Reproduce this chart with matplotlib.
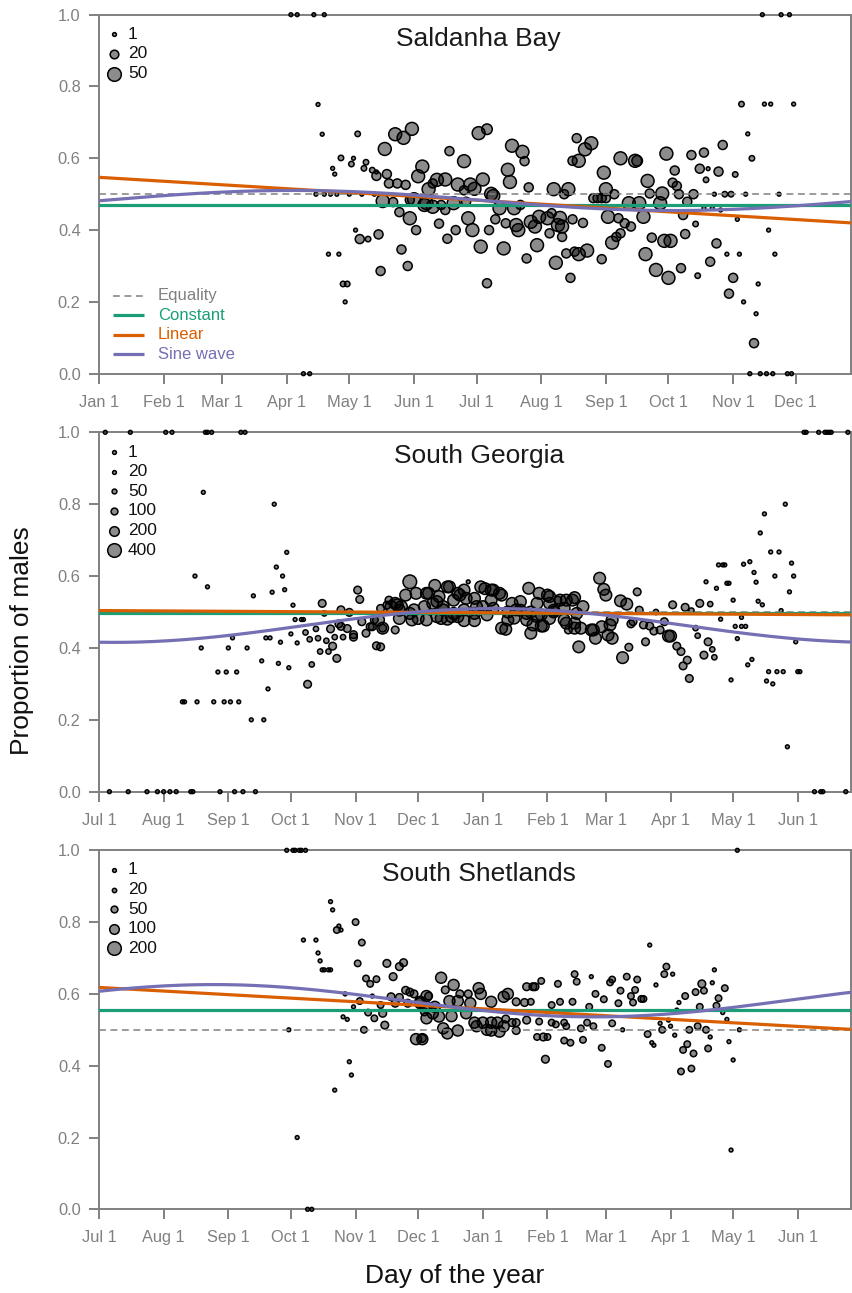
import numpy as np
import matplotlib
matplotlib.use('Agg')
import matplotlib.pyplot as plt

plt.rcParams['font.family'] = ['Liberation Sans', 'DejaVu Sans']

GREEN = '#1b9e77'
ORANGE = '#d95f02'
PURPLE = '#7570b3'
GREY = '#808080'
XMAX = 360.5

# --- month ticks (day offset from the start of each panel) ---
jan_pos = [0, 31, 59, 90, 120, 151, 181, 212, 243, 273, 304, 334]
jan_lab = ['Jan 1', 'Feb 1', 'Mar 1', 'Apr 1', 'May 1', 'Jun 1',
           'Jul 1', 'Aug 1', 'Sep 1', 'Oct 1', 'Nov 1', 'Dec 1']
jul_pos = [0, 31, 62, 92, 123, 153, 184, 215, 243, 274, 304, 335]
jul_lab = ['Jul 1', 'Aug 1', 'Sep 1', 'Oct 1', 'Nov 1', 'Dec 1',
           'Jan 1', 'Feb 1', 'Mar 1', 'Apr 1', 'May 1', 'Jun 1']

# --- Saldanha Bay (days from Jan 1) ---
sb_day = [92, 95, 103, 108, 98, 101, 318, 327, 331, 312,
          317, 320, 323, 330, 332, 105, 107, 112, 113, 116,
          122, 121, 124, 128, 127, 131, 133, 133, 138, 139,
          143, 147, 137, 142, 146, 150, 155, 153, 158, 136,
          141, 151, 156, 144, 149, 152, 123, 125, 129, 134,
          145, 148, 135, 110, 115, 117, 119, 118, 104, 108,
          111, 114, 120, 126, 132, 182, 186, 175, 168, 198,
          203, 204, 196, 197, 184, 172, 178, 180, 175, 188,
          189, 206, 218, 225, 223, 229, 227, 166, 162, 160,
          170, 166, 176, 177, 179, 171, 167, 163, 183, 186,
          187, 192, 190, 194, 195, 200, 201, 199, 202, 207,
          209, 211, 215, 217, 220, 216, 222, 210, 205, 219,
          224, 226, 228, 227, 160, 164, 157, 149, 233, 236,
          230, 242, 250, 257, 258, 272, 284, 290, 299, 308,
          319, 322, 333, 311, 313, 288, 292, 297, 291, 305,
          276, 263, 275, 277, 243, 247, 237, 239, 241, 243,
          254, 259, 264, 269, 270, 278, 285, 282, 295, 300,
          303, 310, 326, 290, 294, 298, 221, 232, 244, 249,
          252, 255, 261, 250, 248, 246, 265, 271, 274, 280,
          286, 281, 306, 321, 296, 230, 234, 241, 262, 267,
          273, 279, 287, 293, 301, 307, 324, 304, 302, 309,
          316, 315, 314, 222]
sb_prop = [1, 1, 1, 1, 0, 0, 1, 1, 1, 0,
           0, 0, 0, 0, 0, 0.75, 0.667, 0.572, 0.556, 0.601,
           0.60, 0.584, 0.668, 0.589, 0.572, 0.567, 0.562, 0.551, 0.556, 0.530,
           0.530, 0.526, 0.626, 0.667, 0.657, 0.682, 0.577, 0.55, 0.514, 0.481,
           0.478, 0.486, 0.47, 0.45, 0.433, 0.40, 0.40, 0.375, 0.375, 0.388,
           0.346, 0.30, 0.286, 0.333, 0.333, 0.25, 0.25, 0.20, 0.5, 0.5,
           0.5, 0.5, 0.5, 0.5, 0.5, 0.67, 0.681, 0.592, 0.62, 0.635,
           0.618, 0.592, 0.568, 0.534, 0.541, 0.527, 0.527, 0.515, 0.511, 0.501,
           0.495, 0.519, 0.514, 0.514, 0.50, 0.656, 0.593, 0.541, 0.54, 0.53,
           0.475, 0.456, 0.479, 0.433, 0.40, 0.40, 0.376, 0.418, 0.354, 0.252,
           0.40, 0.461, 0.43, 0.349, 0.419, 0.414, 0.40, 0.461, 0.47, 0.423,
           0.41, 0.437, 0.433, 0.447, 0.414, 0.391, 0.381, 0.358, 0.321, 0.309,
           0.335, 0.267, 0.34, 0.43, 0.465, 0.47, 0.475, 0.484, 0.625, 0.642,
           0.593, 0.56, 0.60, 0.593, 0.593, 0.613, 0.609, 0.616, 0.637, 0.751,
           0.751, 0.751, 0.751, 0.668, 0.60, 0.571, 0.571, 0.563, 0.54, 0.555,
           0.566, 0.537, 0.532, 0.523, 0.514, 0.50, 0.489, 0.489, 0.489, 0.489,
           0.475, 0.475, 0.502, 0.475, 0.502, 0.50, 0.50, 0.479, 0.50, 0.50,
           0.50, 0.50, 0.50, 0.461, 0.461, 0.456, 0.434, 0.42, 0.437, 0.433,
           0.419, 0.41, 0.437, 0.391, 0.381, 0.365, 0.379, 0.37, 0.37, 0.442,
           0.417, 0.389, 0.43, 0.40, 0.363, 0.333, 0.343, 0.319, 0.333, 0.289,
           0.267, 0.294, 0.273, 0.312, 0.333, 0.333, 0.333, 0.267, 0.223, 0.2,
           0.25, 0.167, 0.085, 0.41]
sb_n = [1, 1, 1, 1, 1, 1, 1, 1, 1, 1,
        1, 1, 1, 1, 1, 3, 1, 3, 3, 8,
        1, 8, 8, 8, 8, 8, 3, 22, 22, 22,
        22, 22, 45, 45, 45, 45, 45, 45, 45, 45,
        22, 45, 45, 22, 45, 22, 3, 22, 8, 22,
        22, 22, 22, 3, 3, 8, 8, 3, 3, 3,
        3, 3, 3, 3, 3, 45, 30, 45, 22, 45,
        45, 22, 45, 45, 45, 45, 45, 45, 22, 45,
        45, 22, 45, 45, 22, 22, 22, 45, 45, 22,
        45, 22, 22, 45, 45, 22, 22, 22, 45, 22,
        22, 45, 22, 45, 22, 45, 45, 45, 22, 45,
        45, 45, 45, 22, 45, 22, 22, 45, 22, 45,
        22, 22, 22, 22, 45, 22, 45, 22, 45, 45,
        45, 45, 45, 45, 30, 45, 22, 22, 22, 8,
        3, 3, 3, 3, 8, 22, 3, 22, 8, 8,
        22, 45, 22, 22, 45, 22, 22, 22, 22, 22,
        45, 45, 22, 45, 45, 22, 22, 22, 3, 8,
        8, 3, 3, 3, 3, 3, 45, 22, 45, 22,
        22, 22, 45, 22, 22, 45, 22, 45, 45, 22,
        8, 22, 3, 3, 22, 45, 45, 22, 45, 45,
        45, 22, 8, 22, 3, 3, 3, 22, 22, 3,
        3, 3, 22, 45]

# --- South Georgia (days from Jul 1) ---
sg_day = [3, 15, 32, 35, 51, 52, 54, 68, 70, 338,
          339, 345, 348, 349, 350, 351, 359, 5, 14, 23,
          28, 31, 34, 37, 44, 45, 58, 65, 69, 75,
          343, 346, 347, 358, 50, 46, 52, 49, 62, 64,
          71, 57, 61, 66, 40, 41, 47, 55, 60, 63,
          67, 73, 79, 74, 78, 81, 80, 82, 84, 83,
          85, 88, 89, 90, 87, 86, 91, 93, 94, 97,
          98, 92, 95, 99, 101, 104, 100, 102, 105, 106,
          107, 108, 111, 110, 109, 112, 113, 114, 115, 116,
          117, 119, 120, 122, 124, 125, 126, 128, 130, 133,
          134, 136, 139, 142, 149, 147, 152, 161, 167, 168,
          177, 183, 185, 188, 189, 192, 193, 206, 211, 215,
          216, 220, 157, 172, 175, 162, 165, 170, 180, 181,
          144, 149, 153, 157, 162, 167, 172, 175, 180, 186,
          196, 199, 193, 195, 202, 207, 207, 212, 213, 210,
          218, 223, 225, 116, 122, 135, 140, 143, 132, 131,
          221, 224, 228, 232, 240, 242, 243, 250, 253, 258,
          259, 267, 275, 281, 284, 288, 293, 223, 228, 231,
          236, 237, 241, 245, 246, 238, 244, 246, 230, 254,
          251, 255, 256, 261, 264, 266, 269, 273, 274, 262,
          271, 277, 279, 282, 280, 283, 286, 287, 290, 292,
          294, 295, 291, 296, 297, 300, 299, 301, 302, 304,
          298, 308, 305, 308, 310, 306, 303, 309, 312, 314,
          315, 316, 318, 317, 319, 329, 322, 326, 324, 332,
          333, 331, 327, 334, 313, 311, 321, 325, 328, 335,
          336, 320, 323, 330,
          158, 163, 173, 176, 188, 198, 202, 210, 216, 227,
          138, 142, 145, 151, 156, 160, 165, 170, 175, 180,
          184, 189, 196, 200, 205, 212, 218, 229, 136, 144,
          150, 164, 169, 205, 208, 216, 224, 228, 135]
sg_prop = [1, 1, 1, 1, 1, 1, 1, 1, 1, 1,
           1, 1, 1, 1, 1, 1, 1, 0, 0, 0,
           0, 0, 0, 0, 0, 0, 0, 0, 0, 0,
           0, 0, 0, 0, 0.833, 0.60, 0.57, 0.40, 0.40, 0.428,
           0.40, 0.333, 0.333, 0.333, 0.25, 0.25, 0.25, 0.25, 0.25, 0.25,
           0.25, 0.2, 0.2, 0.545, 0.364, 0.286, 0.428, 0.428, 0.80, 0.555,
           0.625, 0.60, 0.562, 0.666, 0.416, 0.357, 0.345, 0.519, 0.479, 0.479,
           0.479, 0.439, 0.414, 0.443, 0.424, 0.453, 0.299, 0.354, 0.427, 0.39,
           0.524, 0.496, 0.453, 0.39, 0.42, 0.405, 0.43, 0.371, 0.467, 0.506,
           0.43, 0.454, 0.499, 0.43, 0.561, 0.535, 0.473, 0.441, 0.459, 0.406,
           0.478, 0.455, 0.533, 0.45, 0.584, 0.547, 0.552, 0.574, 0.57, 0.57,
           0.584, 0.57, 0.565, 0.561, 0.561, 0.552, 0.547, 0.566, 0.552, 0.547,
           0.543, 0.533, 0.552, 0.552, 0.561, 0.529, 0.515, 0.533, 0.538, 0.515,
           0.505, 0.496, 0.482, 0.478, 0.487, 0.48, 0.487, 0.476, 0.476, 0.492,
           0.478, 0.483, 0.455, 0.452, 0.505, 0.50, 0.441, 0.461, 0.461, 0.487,
           0.505, 0.51, 0.45, 0.46, 0.437, 0.51, 0.515, 0.52, 0.478, 0.459,
           0.533, 0.533, 0.54, 0.515, 0.594, 0.563, 0.547, 0.531, 0.522, 0.556,
           0.505, 0.50, 0.52, 0.513, 0.504, 0.524, 0.522, 0.478, 0.469, 0.455,
           0.45, 0.45, 0.459, 0.464, 0.478, 0.427, 0.436, 0.427, 0.403, 0.402,
           0.373, 0.467, 0.473, 0.464, 0.461, 0.447, 0.45, 0.433, 0.433, 0.417,
           0.473, 0.405, 0.39, 0.366, 0.35, 0.315, 0.455, 0.434, 0.38, 0.417,
           0.396, 0.374, 0.584, 0.566, 0.631, 0.631, 0.631, 0.58, 0.58, 0.533,
           0.48, 0.485, 0.46, 0.46, 0.46, 0.426, 0.311, 0.633, 0.64, 0.61,
           0.583, 0.53, 0.52, 0.72, 0.773, 0.80, 0.667, 0.667, 0.60, 0.636,
           0.60, 0.556, 0.504, 0.417, 0.368, 0.353, 0.334, 0.334, 0.334, 0.334,
           0.334, 0.308, 0.30, 0.125,
           0.552, 0.543, 0.547, 0.538, 0.533, 0.524, 0.529, 0.524, 0.524, 0.533,
           0.519, 0.524, 0.515, 0.506, 0.515, 0.524, 0.506, 0.496, 0.506, 0.496,
           0.515, 0.51, 0.50, 0.506, 0.496, 0.492, 0.50, 0.496, 0.455, 0.482,
           0.478, 0.482, 0.487, 0.478, 0.464, 0.482, 0.469, 0.455, 0.403]
sg_n = [1, 1, 1, 1, 1, 1, 1, 1, 1, 1,
        1, 1, 1, 1, 1, 1, 1, 1, 1, 1,
        1, 1, 1, 1, 1, 1, 1, 1, 1, 1,
        1, 1, 1, 1, 1, 1, 1, 1, 1, 1,
        1, 1, 1, 1, 1, 1, 1, 1, 1, 1,
        1, 1, 1, 1, 1, 1, 1, 1, 1, 1,
        1, 1, 1, 1, 1, 1, 1, 1, 1, 1,
        1, 1, 1, 60, 60, 60, 125, 60, 60, 60,
        125, 60, 125, 60, 60, 125, 60, 125, 125, 125,
        60, 125, 125, 125, 125, 125, 125, 125, 125, 125,
        290, 125, 125, 125, 400, 290, 290, 290, 290, 290,
        1, 290, 290, 290, 290, 290, 290, 290, 290, 290,
        290, 125, 290, 290, 290, 290, 290, 290, 290, 290,
        290, 290, 290, 290, 290, 290, 290, 290, 290, 290,
        290, 290, 290, 290, 290, 290, 290, 290, 290, 290,
        290, 290, 125, 125, 125, 125, 290, 290, 125, 125,
        290, 290, 290, 290, 290, 290, 290, 290, 290, 125,
        125, 60, 125, 125, 60, 125, 60, 290, 290, 290,
        290, 290, 290, 290, 290, 290, 290, 290, 290, 125,
        290, 125, 125, 125, 125, 125, 125, 290, 290, 125,
        125, 125, 125, 125, 125, 125, 60, 60, 125, 125,
        60, 60, 1, 1, 1, 1, 1, 1, 1, 1,
        1, 1, 1, 1, 1, 1, 1, 1, 1, 1,
        1, 1, 1, 1, 1, 1, 1, 1, 1, 1,
        1, 1, 1, 1, 1, 1, 1, 1, 1, 1,
        1, 1, 1, 1,
        290, 290, 290, 290, 290, 290, 290, 290, 290, 290,
        125, 290, 290, 290, 290, 290, 290, 290, 290, 290,
        290, 290, 290, 290, 290, 290, 290, 290, 290, 290,
        290, 290, 290, 290, 290, 290, 290, 290, 125]

# --- South Shetlands (days from Jul 1) ---
ss_day = [90, 93, 94, 96, 97, 99, 306, 100, 102,
          91, 95, 98, 104, 105, 106, 107, 108, 110, 111,
          111, 112, 114, 115, 116, 113, 120, 121, 117, 119,
          118, 122, 123, 126, 124, 125, 127, 128, 130, 133,
          131, 129, 132, 136, 137, 135, 138, 141, 144, 146,
          140, 144, 147, 149, 151, 142, 148, 152, 155, 157,
          154, 157, 156, 264, 272, 271, 275, 295, 267, 294,
          289, 290, 286, 300, 281, 297, 278, 288, 296, 277,
          299, 301, 273, 269, 274, 270, 287, 283, 291, 307,
          293, 276, 263, 265, 266, 282, 280, 285, 292, 302,
          304, 279, 284, 303, 241, 244, 236, 228, 229, 220,
          212, 209, 208, 205, 207, 238, 242, 245, 246, 253,
          258, 250, 257, 255, 260, 261, 256, 249, 221, 227,
          217, 235, 217, 219, 223, 224, 211, 234, 237, 231,
          246, 251, 210, 213, 215, 223, 226, 232, 214, 164,
          170, 158, 166, 173, 177, 182, 183, 188, 194, 196,
          200, 204, 154, 157, 161, 168, 172, 178, 160, 163,
          169, 176, 180, 184, 188, 191, 195, 198, 200, 205,
          165, 167, 172, 181, 186, 188, 192, 194, 200, 155]
ss_prop = [1, 1, 1, 1, 1, 1, 1, 0, 0,
           0.50, 0.20, 0.75, 0.75, 0.714, 0.692, 0.667, 0.667, 0.667, 0.667,
           0.857, 0.834, 0.778, 0.789, 0.778, 0.332, 0.411, 0.374, 0.536, 0.529,
           0.60, 0.564, 0.80, 0.743, 0.685, 0.58, 0.50, 0.643, 0.628, 0.641,
           0.594, 0.548, 0.532, 0.546, 0.513, 0.569, 0.685, 0.648, 0.676, 0.687,
           0.592, 0.59, 0.61, 0.605, 0.60, 0.574, 0.574, 0.474, 0.474, 0.594,
           0.578, 0.532, 0.55, 0.736, 0.676, 0.655, 0.655, 0.667, 0.625, 0.631,
           0.628, 0.609, 0.605, 0.616, 0.594, 0.588, 0.576, 0.564, 0.567, 0.555,
           0.548, 0.529, 0.527, 0.518, 0.51, 0.50, 0.51, 0.50, 0.50, 0.50,
           0.48, 0.485, 0.488, 0.464, 0.457, 0.46, 0.444, 0.434, 0.448, 0.467,
           0.416, 0.384, 0.392, 0.165, 0.45, 0.405, 0.648, 0.655, 0.634, 0.628,
           0.636, 0.62, 0.62, 0.62, 0.578, 0.60, 0.585, 0.632, 0.64, 0.648,
           0.64, 0.609, 0.611, 0.594, 0.586, 0.586, 0.576, 0.574, 0.578, 0.578,
           0.569, 0.564, 0.52, 0.515, 0.52, 0.51, 0.523, 0.52, 0.51, 0.504,
           0.518, 0.50, 0.48, 0.48, 0.48, 0.47, 0.464, 0.472, 0.418, 0.645,
           0.625, 0.594, 0.611, 0.60, 0.60, 0.616, 0.60, 0.578, 0.592, 0.60,
           0.578, 0.576, 0.574, 0.564, 0.564, 0.58, 0.58, 0.574, 0.546, 0.537,
           0.538, 0.546, 0.52, 0.52, 0.52, 0.52, 0.53, 0.52, 0.52, 0.527,
           0.504, 0.49, 0.498, 0.51, 0.50, 0.498, 0.495, 0.51, 0.498, 0.476]
ss_n = [1, 1, 1, 1, 1, 1, 1, 1, 1,
        1, 1, 1, 1, 1, 1, 1, 1, 1, 1,
        1, 1, 45, 1, 1, 1, 1, 1, 1, 1,
        1, 1, 45, 45, 45, 45, 45, 45, 45, 45,
        1, 45, 45, 63, 63, 45, 63, 63, 63, 63,
        63, 63, 63, 63, 63, 63, 63, 130, 130, 130,
        130, 130, 63, 1, 45, 45, 1, 1, 1, 1,
        63, 45, 45, 45, 45, 45, 1, 45, 45, 1,
        1, 1, 1, 1, 1, 45, 45, 45, 45, 1,
        1, 1, 45, 1, 1, 45, 45, 45, 45, 1,
        1, 45, 45, 1, 45, 45, 1, 45, 45, 45,
        45, 63, 63, 63, 45, 45, 45, 45, 45, 45,
        45, 45, 45, 45, 45, 45, 45, 45, 45, 45,
        45, 45, 45, 45, 45, 45, 45, 45, 45, 45,
        45, 1, 45, 63, 45, 45, 45, 45, 63, 130,
        130, 63, 63, 63, 63, 130, 130, 130, 130, 130,
        63, 63, 130, 130, 130, 130, 130, 130, 130, 130,
        130, 130, 130, 130, 130, 130, 63, 63, 63, 63,
        130, 130, 130, 130, 130, 130, 130, 130, 63, 63]

# --- fitted models: constant, linear (intercept, slope), sine (mean, amplitude, peak day) ---
sb_const, sb_lin, sb_sine = 0.471, (0.547, -0.000352), (0.4825, 0.028, 93)
sg_const, sg_lin, sg_sine = 0.498, (0.504, -0.000033), (0.4625, 0.047, 190)
ss_const, ss_lin, ss_sine = 0.555, (0.618, -0.000324), (0.581, 0.045, 55)

sb_legend = [1, 20, 50]
sg_legend = [1, 20, 50, 100, 200, 400]
ss_legend = [1, 20, 50, 100, 200]

FACE = (0, 0, 0, 0.45)
EDGE_LW = 1.1


def marker_area(n, nmax):
    d_px = np.maximum(3.8, 13.6 * np.sqrt(np.asarray(n, float) / nmax))
    return (d_px * 0.72) ** 2


def draw_panel(ax, day, prop, n, legend_n, ticks, labels, const, lin, sine, title):
    assert len(day) == len(prop) == len(n)
    nmax = max(legend_n)
    ax.scatter(day, prop, s=marker_area(n, nmax), facecolor=FACE,
               edgecolor='black', linewidth=EDGE_LW, clip_on=False, zorder=3)

    xs = np.linspace(0, XMAX, 400)
    ax.axhline(0.5, color=GREY, lw=1.1, ls=(0, (4.5, 3)), zorder=4)
    ax.plot(xs, np.full_like(xs, const), color=GREEN, lw=2.3, zorder=5)
    ax.plot(xs, lin[0] + lin[1] * xs, color=ORANGE, lw=2.3, zorder=5)
    ax.plot(xs, sine[0] + sine[1] * np.cos(2 * np.pi * (xs - sine[2]) / 365),
            color=PURPLE, lw=2.3, zorder=5)

    # size legend
    for i, v in enumerate(legend_n):
        y = 1 - (19.7 + 19.6 * i) / 359
        ax.scatter(0.02, y, s=marker_area(v, nmax), facecolor=FACE,
                   edgecolor='black', linewidth=EDGE_LW, transform=ax.transAxes,
                   clip_on=False, zorder=6)
        ax.text(0.0386, y, str(v), transform=ax.transAxes, va='center',
                ha='left', fontsize=12.5, color='#111111')

    ax.text(0.505, 1 - 31 / 359, title, transform=ax.transAxes, ha='center',
            va='baseline', fontsize=19, color='#1a1a1a')

    ax.set_xlim(0, XMAX)
    ax.set_ylim(0, 1)
    ax.set_xticks(ticks)
    ax.set_xticklabels(labels)
    yt = np.arange(0, 1.01, 0.2)
    ax.set_yticks(yt)
    ax.set_yticklabels([f'{v:.1f}' for v in yt])
    for sp in ax.spines.values():
        sp.set_color(GREY)
        sp.set_linewidth(1.4)
    ax.tick_params(direction='out', length=7.2, width=1.4, color=GREY,
                   labelcolor=GREY, labelsize=11.8)
    ax.tick_params(axis='x', pad=8)
    ax.tick_params(axis='y', pad=6)


fig = plt.figure(figsize=(8.52, 12.93), dpi=100)
W, H = 852, 1293
left, width = 99 / W, 752 / W
ax1 = fig.add_axes([left, 1 - 373.7 / H, width, 359 / H])
ax2 = fig.add_axes([left, 1 - 791.7 / H, width, 359.4 / H])
ax3 = fig.add_axes([left, 1 - 1209.3 / H, width, 359 / H])

draw_panel(ax1, sb_day, sb_prop, sb_n, sb_legend, jan_pos, jan_lab,
           sb_const, sb_lin, sb_sine, 'Saldanha Bay')
draw_panel(ax2, sg_day, sg_prop, sg_n, sg_legend, jul_pos, jul_lab,
           sg_const, sg_lin, sg_sine, 'South Georgia')
draw_panel(ax3, ss_day, ss_prop, ss_n, ss_legend, jul_pos, jul_lab,
           ss_const, ss_lin, ss_sine, 'South Shetlands')

# line legend (first panel only)
leg_names = ['Equality', 'Constant', 'Linear', 'Sine wave']
leg_colors = [GREY, GREEN, ORANGE, PURPLE]
leg_styles = [(0, (4.5, 3)), '-', '-', '-']
leg_widths = [1.1, 2.3, 2.3, 2.3]
for i, (name, col, ls, lw) in enumerate(zip(leg_names, leg_colors, leg_styles, leg_widths)):
    y = (77.7 - 19.5 * i) / 359
    ax1.plot([0.0186, 0.0598], [y, y], color=col, ls=ls, lw=lw,
             transform=ax1.transAxes, solid_capstyle='butt')
    ax1.text(0.0785, y, name, color=col, transform=ax1.transAxes,
             va='center', ha='left', fontsize=12)

fig.text(22 / W, 1 - 641 / H, 'Proportion of males', rotation=90,
         ha='center', va='center', fontsize=19, color='#111111')
fig.text(455 / W, 1 - 1283 / H, 'Day of the year', ha='center',
         va='baseline', fontsize=19, color='#111111')

fig.savefig('out.png', dpi=100)
